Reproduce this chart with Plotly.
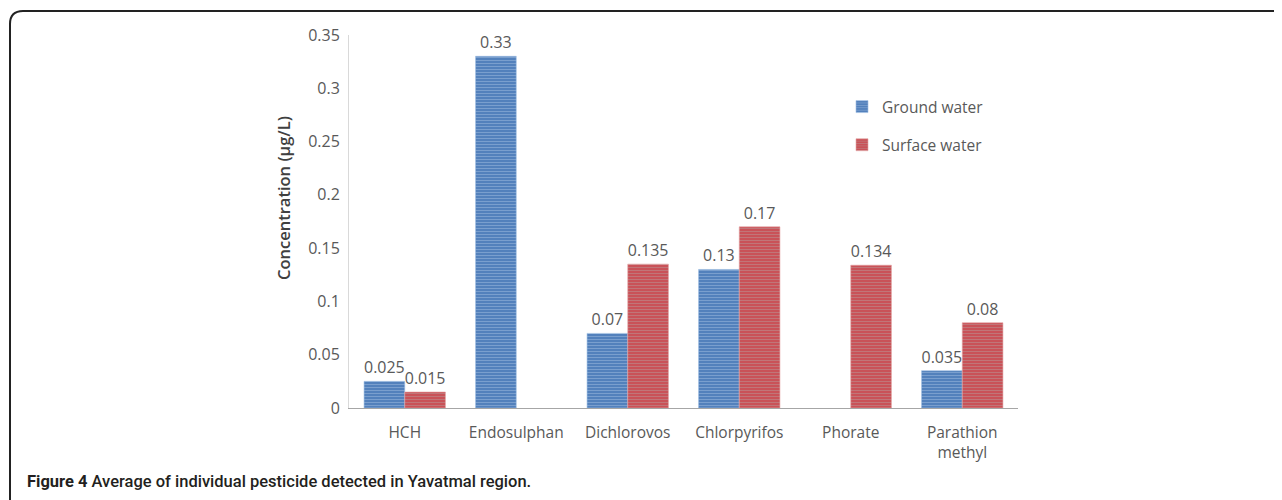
import plotly.graph_objects as go

categories = ["HCH", "Endosulphan", "Dichlorovos", "Chlorpyrifos", "Phorate", "Parathion<br>methyl"]
ground_water = [0.025, 0.33, 0.07, 0.13, None, 0.035]
surface_water = [0.015, None, 0.135, 0.17, 0.134, 0.08]
y_ticks = [0, 0.05, 0.1, 0.15, 0.2, 0.25, 0.3, 0.35]
y_tick_labels = ["0", "0.05", "0.1", "0.15", "0.2", "0.25", "0.3", "0.35"]

# page has an 8px body margin, so the figure is shrunk and shifted
OFF = 8
W, H = 1282 - OFF, 500 - OFF
PL, PR, PT, PB = 349, 1018, 35, 408          # plot area in page pixels
L, T = PL - OFF, PT - OFF
R, B = W - (PR - OFF), H - (PB - OFF)
PW, PH = PR - PL, PB - PT


def px(x):
    return (x - PL) / PW


def py(y):
    return (PB - y) / PH


def labels(vals):
    return ["" if v is None else f"{v:g}" for v in vals]


FONT = "Open Sans"
GRAY = "#595959"

fig = go.Figure()
fig.add_trace(go.Bar(
    name="Ground water", x=categories, y=ground_water,
    text=labels(ground_water), textposition="outside", cliponaxis=False,
    textfont=dict(family=FONT, size=16, color=GRAY),
    marker=dict(color="#4a7bb8", line=dict(color="#9dbde2", width=0.6),
                pattern=dict(shape="-", fgcolor="#a9c4e4", bgcolor="#4a7bb8",
                             size=3, solidity=0.45)),
    legendgroup="g",
))
fig.add_trace(go.Bar(
    name="Surface water", x=categories, y=surface_water,
    text=labels(surface_water), textposition="outside", cliponaxis=False,
    textfont=dict(family=FONT, size=16, color=GRAY),
    marker=dict(color="#ca4a51", line=dict(color="#e4a5a5", width=0.6),
                pattern=dict(shape="-", fgcolor="#b8a0a0", bgcolor="#ca4a51",
                             size=3, solidity=0.45)),
    legendgroup="s",
))

r = 13
x0, y0 = px(10), py(11)
path = (f"M {x0},{py(520)} L {x0},{py(11 + r)} "
        f"Q {x0},{y0} {px(10 + r)},{y0} L {px(1300)},{y0}")

fig.update_layout(
    width=W, height=H,
    margin=dict(l=L, r=R, t=T, b=B),
    paper_bgcolor="white", plot_bgcolor="white",
    barmode="group", bargap=0.27, bargroupgap=0,
    font=dict(family=FONT, size=15.5, color=GRAY),
    showlegend=True,
    legend=dict(x=px(842), y=py(90), xanchor="left", yanchor="top",
                traceorder="grouped", tracegroupgap=15,
                font=dict(family=FONT, size=15.5, color=GRAY),
                itemwidth=30, bgcolor="rgba(0,0,0,0)"),
    xaxis=dict(showline=True, linecolor="#a6a6a6", linewidth=1,
               ticks="", tickfont=dict(family=FONT, size=15.5, color=GRAY),
               ticklabelstandoff=10, fixedrange=True),
    yaxis=dict(range=[0, 0.35], tickvals=y_ticks, ticktext=y_tick_labels,
               showline=True, linecolor="#d9d9d9", linewidth=1,
               showgrid=False, zeroline=False, ticks="",
               ticklabelstandoff=5,
               tickfont=dict(family=FONT, size=16, color=GRAY)),
    shapes=[dict(type="path", path=path, xref="paper", yref="paper",
                 line=dict(color="#222222", width=2))],
    annotations=[
        dict(text="Concentration (μg/L)", textangle=-90,
             x=px(284), y=py(198), xref="paper", yref="paper",
             xanchor="center", yanchor="middle", showarrow=False,
             font=dict(family=FONT, size=16.5, color="#404040", weight=600)),
        dict(text="<b>Figure 4</b> Average of individual pesticide detected in Yavatmal region.",
             x=px(25), y=py(482), xref="paper", yref="paper",
             xanchor="left", yanchor="middle", showarrow=False,
             font=dict(family="Roboto", size=16.5, color="#231f20", weight=500)),
    ],
)

fig.write_html("out.html")
